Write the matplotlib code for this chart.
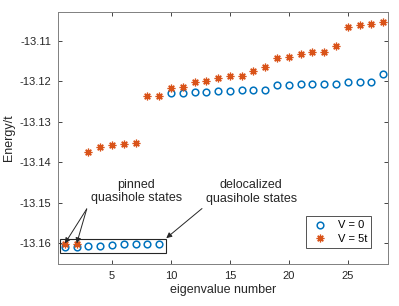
import numpy as np
import matplotlib
matplotlib.use("Agg")
import matplotlib.pyplot as plt
from matplotlib.patches import Rectangle

plt.rcParams['font.family'] = ['Liberation Sans', 'DejaVu Sans']

n = np.arange(1, 29)
e_v0 = [-13.1610, -13.1610, -13.1606, -13.1606, -13.1605, -13.1602, -13.1602,
        -13.1602, -13.1602, -13.1229, -13.1229, -13.1226, -13.1226, -13.1225,
        -13.1225, -13.1222, -13.1222, -13.1222, -13.1210, -13.1210, -13.1208,
        -13.1208, -13.1206, -13.1206, -13.1202, -13.1202, -13.1202, -13.1183]
e_v5 = [-13.1602, -13.1602, -13.1375, -13.1362, -13.1357, -13.1356, -13.1352,
        -13.1237, -13.1237, -13.1217, -13.1214, -13.1202, -13.1200, -13.1191,
        -13.1188, -13.1186, -13.1175, -13.1164, -13.1142, -13.1141, -13.1132,
        -13.1129, -13.1129, -13.1113, -13.1067, -13.1062, -13.1058, -13.1053]

blue = '#0072BD'
orange = '#D95319'
gray = '#262626'

fig = plt.figure(figsize=(3.99, 3.06), dpi=100)
ax = fig.add_axes([0.145, 0.137, 0.827, 0.824])

ax.plot(n, e_v0, linestyle='none', marker='o', markersize=4.8, markerfacecolor='none',
        markeredgecolor=blue, markeredgewidth=1.1, label='V = 0')
ax.plot(n, e_v5, linestyle='none', marker=(8, 2, 0), markersize=5.5,
        color=orange, markeredgewidth=0.9, label='V = 5t')

ax.add_patch(Rectangle((0.6, -13.1624), 8.95, 0.0035, fill=False,
                       edgecolor=gray, linewidth=0.8))

arrow = dict(arrowstyle='-|>', color=gray, lw=0.7, mutation_scale=8,
             shrinkA=0, shrinkB=0)
for xp in [1, 2]:
    ax.annotate('', xy=(xp, -13.1600), xytext=(2.85, -13.1515), arrowprops=arrow)
ax.text(7.07, -13.1472, 'pinned\nquasihole states', ha='center', va='center',
        fontsize=9, color=gray, linespacing=1.2)

ax.annotate('', xy=(9.6, -13.1587), xytext=(12.63, -13.1514), arrowprops=arrow)
ax.text(16.8, -13.1474, 'delocalized\nquasihole states', ha='center', va='center',
        fontsize=9, color=gray, linespacing=1.2)

ax.set_xlim(0.4, 28.4)
ax.set_ylim(-13.1651, -13.1029)
ax.set_xticks([5, 10, 15, 20, 25])
ax.set_yticks([-13.16, -13.15, -13.14, -13.13, -13.12, -13.11])
ax.set_yticklabels(['-13.16', '-13.15', '-13.14', '-13.13', '-13.12', '-13.11'])
ax.tick_params(direction='in', top=True, right=True, length=3, width=0.6,
               labelsize=8, colors=gray, pad=5)
for s in ax.spines.values():
    s.set_color('#808080')
    s.set_linewidth(0.7)

ax.set_xlabel('eigenvalue number', fontsize=9, color=gray, labelpad=2)
ax.set_ylabel('Energy/t', fontsize=9, color=gray, labelpad=3)

leg = ax.legend(loc='lower right', bbox_to_anchor=(0.967, 0.041), fontsize=8,
                frameon=True, fancybox=False, edgecolor=gray, borderpad=0.4,
                handletextpad=0.8, handlelength=1.6, labelspacing=0.3)
leg.get_frame().set_linewidth(0.7)

fig.savefig('out.png', dpi=100)
